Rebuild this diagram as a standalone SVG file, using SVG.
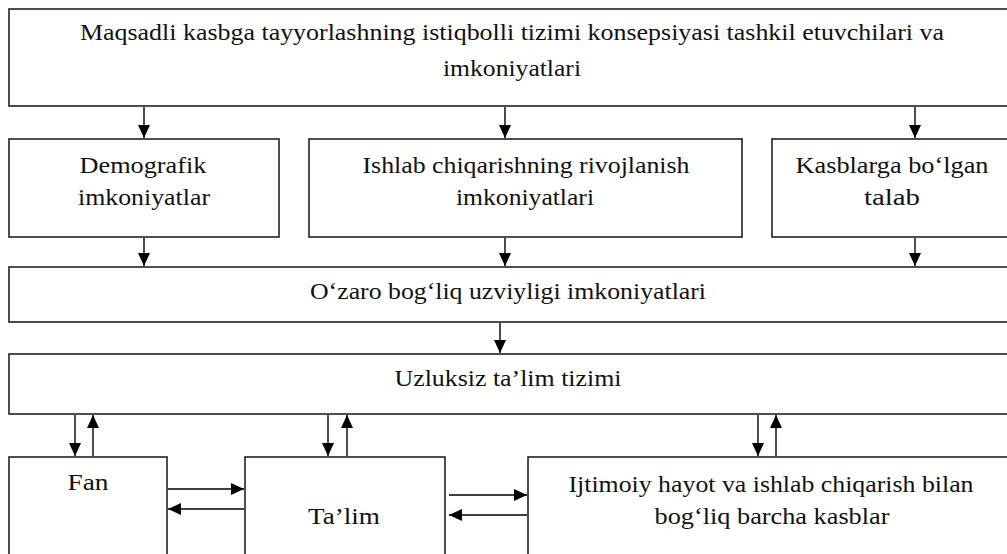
<svg xmlns="http://www.w3.org/2000/svg" width="1007" height="554" viewBox="0 0 1007 554">
<style>
  .box { fill: #ffffff; stroke: #222222; stroke-width: 1.6; }
  .t { font-family: "Liberation Serif", "Times New Roman", serif; font-size: 23px; fill: #111111; text-anchor: middle; }
  .c { stroke: #000000; stroke-width: 1.4; fill: none; marker-end: url(#ah); }
</style>
<defs>
  <marker id="ah" markerUnits="userSpaceOnUse" markerWidth="14" markerHeight="14" viewBox="0 0 14 12" refX="13" refY="6" orient="auto">
    <path d="M0,0 L13,6 L0,12 Z" fill="#000000"/>
  </marker>
</defs>
<rect width="1007" height="554" fill="#ffffff"/>

<g id="n-top">
  <rect class="box" x="9" y="9" width="1007" height="97"/>
  <text class="t" x="512" y="40" textLength="864" lengthAdjust="spacingAndGlyphs">Maqsadli kasbga tayyorlashning istiqbolli tizimi konsepsiyasi tashkil etuvchilari va</text>
  <text class="t" x="512" y="76" textLength="138" lengthAdjust="spacingAndGlyphs">imkoniyatlari</text>
</g>

<g id="n-demografik">
  <rect class="box" x="9" y="139" width="270" height="98"/>
  <text class="t" x="143" y="173" textLength="127" lengthAdjust="spacingAndGlyphs">Demografik</text>
  <text class="t" x="144" y="205" textLength="132" lengthAdjust="spacingAndGlyphs">imkoniyatlar</text>
</g>

<g id="n-ishlab">
  <rect class="box" x="309" y="139" width="433" height="98"/>
  <text class="t" x="526" y="173" textLength="327" lengthAdjust="spacingAndGlyphs">Ishlab chiqarishning rivojlanish</text>
  <text class="t" x="525" y="205" textLength="138" lengthAdjust="spacingAndGlyphs">imkoniyatlari</text>
</g>

<g id="n-kasblarga">
  <rect class="box" x="772" y="139" width="244" height="98"/>
  <text class="t" x="892" y="173" textLength="193" lengthAdjust="spacingAndGlyphs">Kasblarga bo‘lgan</text>
  <text class="t" x="892" y="205" textLength="56" lengthAdjust="spacingAndGlyphs">talab</text>
</g>

<g id="n-ozaro">
  <rect class="box" x="9" y="267" width="1007" height="55"/>
  <text class="t" x="508" y="299" textLength="396" lengthAdjust="spacingAndGlyphs">O‘zaro bog‘liq uzviyligi imkoniyatlari</text>
</g>

<g id="n-uzluksiz">
  <rect class="box" x="9" y="354" width="1007" height="60"/>
  <text class="t" x="508" y="386" textLength="227" lengthAdjust="spacingAndGlyphs">Uzluksiz ta’lim tizimi</text>
</g>

<g id="n-fan">
  <rect class="box" x="9" y="457" width="158" height="120"/>
  <text class="t" x="88" y="490" textLength="41" lengthAdjust="spacingAndGlyphs">Fan</text>
</g>

<g id="n-talim">
  <rect class="box" x="245" y="457" width="200" height="120"/>
  <text class="t" x="344" y="524" textLength="72" lengthAdjust="spacingAndGlyphs">Ta’lim</text>
</g>

<g id="n-ijtimoiy">
  <rect class="box" x="528" y="457" width="488" height="120"/>
  <text class="t" x="771" y="492" textLength="405" lengthAdjust="spacingAndGlyphs">Ijtimoiy hayot va ishlab chiqarish bilan</text>
  <text class="t" x="772" y="524" textLength="235" lengthAdjust="spacingAndGlyphs">bog‘liq barcha kasblar</text>
</g>

<g id="connectors">
  <line class="c" x1="144" y1="107" x2="144" y2="138"/>
  <line class="c" x1="505" y1="107" x2="505" y2="138"/>
  <line class="c" x1="915" y1="107" x2="915" y2="138"/>
  <line class="c" x1="144" y1="238" x2="144" y2="266"/>
  <line class="c" x1="505" y1="238" x2="505" y2="266"/>
  <line class="c" x1="915" y1="238" x2="915" y2="266"/>
  <line class="c" x1="500" y1="323" x2="500" y2="353"/>
  <line class="c" x1="75" y1="415" x2="75" y2="456"/>
  <line class="c" x1="93" y1="456" x2="93" y2="415"/>
  <line class="c" x1="328" y1="415" x2="328" y2="456"/>
  <line class="c" x1="347" y1="456" x2="347" y2="415"/>
  <line class="c" x1="758" y1="415" x2="758" y2="456"/>
  <line class="c" x1="776" y1="456" x2="776" y2="415"/>
  <line class="c" x1="168" y1="489" x2="244" y2="489"/>
  <line class="c" x1="244" y1="509" x2="168" y2="509"/>
  <line class="c" x1="449" y1="495" x2="527" y2="495"/>
  <line class="c" x1="527" y1="515" x2="449" y2="515"/>
</g>
</svg>
